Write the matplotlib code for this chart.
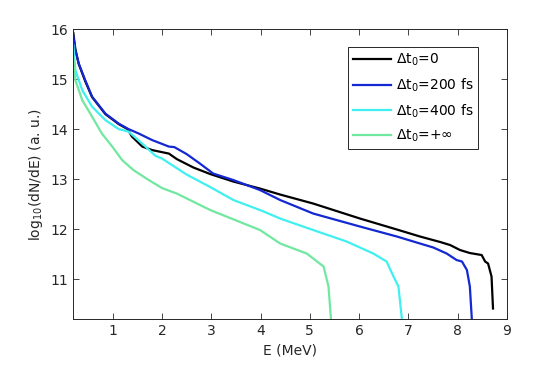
import numpy as np
import matplotlib
matplotlib.use("Agg")
import matplotlib.pyplot as plt

# spectra: energy (MeV) and log10(dN/dE)
E_0 = [0.2, 0.24, 0.31, 0.44, 0.58, 0.85, 1.12, 1.3, 1.39, 1.6, 1.8, 2.14, 2.3, 2.64, 2.98, 3.45, 3.99,
       4.4, 5.07, 6.02, 6.77, 7.24, 7.65, 7.85, 8.05, 8.25, 8.49, 8.56, 8.62, 8.69, 8.72]
y_0 = [15.92, 15.6, 15.3, 14.96, 14.64, 14.3, 14.1, 14.0, 13.85, 13.65, 13.58, 13.51, 13.4, 13.23, 13.1, 12.95, 12.81,
       12.69, 12.51, 12.21, 11.99, 11.85, 11.74, 11.68, 11.58, 11.52, 11.48, 11.35, 11.31, 11.05, 10.41]

E_200 = [0.2, 0.24, 0.31, 0.44, 0.58, 0.85, 1.12, 1.32, 1.53, 1.8, 2.14, 2.25, 2.5, 2.77, 3.04, 3.45, 3.99,
         4.4, 5.07, 6.02, 6.77, 7.24, 7.51, 7.78, 7.98, 8.09, 8.19, 8.25, 8.29]
y_200 = [15.86, 15.58, 15.31, 14.98, 14.65, 14.31, 14.11, 14.0, 13.91, 13.78, 13.65, 13.64, 13.5, 13.31, 13.11, 12.98, 12.78,
         12.58, 12.31, 12.05, 11.85, 11.71, 11.63, 11.51, 11.38, 11.35, 11.18, 10.85, 10.2]

E_400 = [0.2, 0.24, 0.38, 0.58, 0.85, 1.12, 1.32, 1.6, 1.86, 2.0, 2.5, 2.98, 3.45, 3.99, 4.4, 5.07,
         5.75, 6.29, 6.56, 6.7, 6.8, 6.87]
y_400 = [15.68, 15.18, 14.78, 14.45, 14.18, 14.0, 13.95, 13.71, 13.47, 13.41, 13.09, 12.84, 12.58, 12.38, 12.21, 11.98,
         11.75, 11.51, 11.35, 11.05, 10.85, 10.2]

E_inf = [0.2, 0.24, 0.38, 0.58, 0.78, 0.99, 1.19, 1.42, 1.7, 2.0, 2.3, 2.98, 3.99, 4.4, 4.94, 5.07, 5.28, 5.38, 5.43]
y_inf = [15.45, 14.98, 14.58, 14.25, 13.91, 13.65, 13.38, 13.18, 13.0, 12.82, 12.71, 12.38, 11.98, 11.71, 11.51, 11.41, 11.25, 10.85, 10.2]

labels = [r'$\Delta$t$_0$=0', r'$\Delta$t$_0$=200 fs', r'$\Delta$t$_0$=400 fs', r'$\Delta$t$_0$=+$\infty$']
colors = ['black', '#1428d2', '#40f0f0', '#70e8a0']

plt.rcParams['font.size'] = 10
plt.rcParams['mathtext.default'] = 'regular'

fig = plt.figure(figsize=(5.6, 3.69), dpi=100)
ax = fig.add_axes([0.131, 0.1355, 0.774, 0.7855])

for xs, ys, c, lab in zip([E_0, E_200, E_400, E_inf], [y_0, y_200, y_400, y_inf], colors, labels):
    ax.plot(xs, ys, color=c, linewidth=1.6, label=lab)

ax.set_xlim(0.2, 9)
ax.set_ylim(10.2, 16)
ax.set_xticks(range(1, 10))
ax.set_yticks(range(11, 17))
ax.tick_params(direction='in', top=True, right=True, length=4, width=0.6, colors='#262626', labelcolor='#262626')
for s in ax.spines.values():
    s.set_linewidth(0.7)
    s.set_color('#262626')

ax.set_xlabel('E (MeV)', color='#262626')
ax.set_ylabel(r'log$_{10}$(dN/dE) (a. u.)', color='#262626')

leg = ax.legend(loc='upper right', bbox_to_anchor=(0.8536, 0.8726), bbox_transform=fig.transFigure,
                fancybox=False, framealpha=1, edgecolor='#262626', handlelength=2.8,
                borderpad=0.35, labelspacing=0.6, handletextpad=0.3, borderaxespad=0)
leg.get_frame().set_linewidth(0.7)

fig.savefig('out.png', dpi=100)
